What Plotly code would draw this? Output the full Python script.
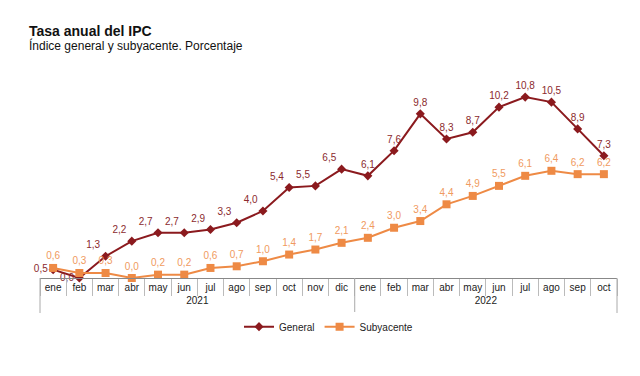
import plotly.graph_objects as go

years = ["2021"] * 12 + ["2022"] * 10
months = ["ene", "feb", "mar", "abr", "may", "jun", "jul", "ago", "sep", "oct", "nov", "dic",
          "ene", "feb", "mar", "abr", "may", "jun", "jul", "ago", "sep", "oct"]
general = [0.5, 0.0, 1.3, 2.2, 2.7, 2.7, 2.9, 3.3, 4.0, 5.4, 5.5, 6.5,
           6.1, 7.6, 9.8, 8.3, 8.7, 10.2, 10.8, 10.5, 8.9, 7.3]
subyacente = [0.6, 0.3, 0.3, 0.0, 0.2, 0.2, 0.6, 0.7, 1.0, 1.4, 1.7, 2.1,
              2.4, 3.0, 3.4, 4.4, 4.9, 5.5, 6.1, 6.4, 6.2, 6.2]

def fmt(v):
    return f"{v:.1f}".replace(".", ",")

C_GEN = "#8B1A1E"
C_SUB = "#EE8A45"

gen_pos = ["middle left", "middle left"] + ["top left"] * 10 + ["top center"] * 10
fig = go.Figure()
fig.add_trace(go.Scatter(
    x=[years, months], y=general, name="General", mode="lines+markers+text",
    line=dict(color=C_GEN, width=2), marker=dict(symbol="diamond", size=7, color=C_GEN),
    text=[fmt(v) for v in general], textposition=gen_pos,
    textfont=dict(color="#8B2A2E", size=10, family="Liberation Sans"),
    cliponaxis=False,
))
fig.add_trace(go.Scatter(
    x=[years, months], y=subyacente, name="Subyacente", mode="lines+markers+text",
    line=dict(color=C_SUB, width=2), marker=dict(symbol="square", size=8, color=C_SUB),
    text=[fmt(v) for v in subyacente], textposition="top center",
    textfont=dict(color="#F09A60", size=10, family="Liberation Sans"),
    cliponaxis=False,
))

# year group dividers (at group boundaries), extending below the axis
n = len(months)
bounds = [0]
for i in range(1, n):
    if years[i] != years[i - 1]:
        bounds.append(i)
bounds.append(n)
plot_h = 376 - 69 - 106
shapes = [dict(type="line", xref="paper", yref="paper", x0=b / n, x1=b / n,
               y0=0, y1=-35 / plot_h, line=dict(color="#aaa", width=1)) for b in bounds]

fig.update_layout(
    width=640, height=376,
    margin=dict(l=32, r=31, t=69, b=106, autoexpand=False),
    paper_bgcolor="white", plot_bgcolor="white",
    font=dict(family="Liberation Sans", size=10, color="#222"),
    showlegend=True,
    legend=dict(orientation="h", x=0.5, xanchor="center", y=-0.17, yanchor="top",
                font=dict(size=10, color="#222")),
    xaxis=dict(type="multicategory", range=[-0.5, 21.5], showline=True, linecolor="#888",
               linewidth=1, ticks="outside", ticklen=17, tickcolor="#bbb", showgrid=False,
               tickangle=0, automargin=False, showdividers=False,
               tickfont=dict(size=10, color="#222")),
    yaxis=dict(range=[0, 12], visible=False, showgrid=False, zeroline=False, automargin=False),
    shapes=shapes,
    annotations=[
        dict(text="<b>Tasa anual del IPC</b>", xref="paper", yref="paper", x=0, xshift=-13,
             y=1.0, xanchor="left", yanchor="bottom", yshift=36, showarrow=False,
             font=dict(size=14, color="#111")),
        dict(text="Índice general y subyacente. Porcentaje", xref="paper", yref="paper",
             x=0, xshift=-13, y=1.0, xanchor="left", yanchor="bottom", yshift=22,
             showarrow=False, font=dict(size=12, color="#111")),
    ],
)
fig.write_html("out.html")
